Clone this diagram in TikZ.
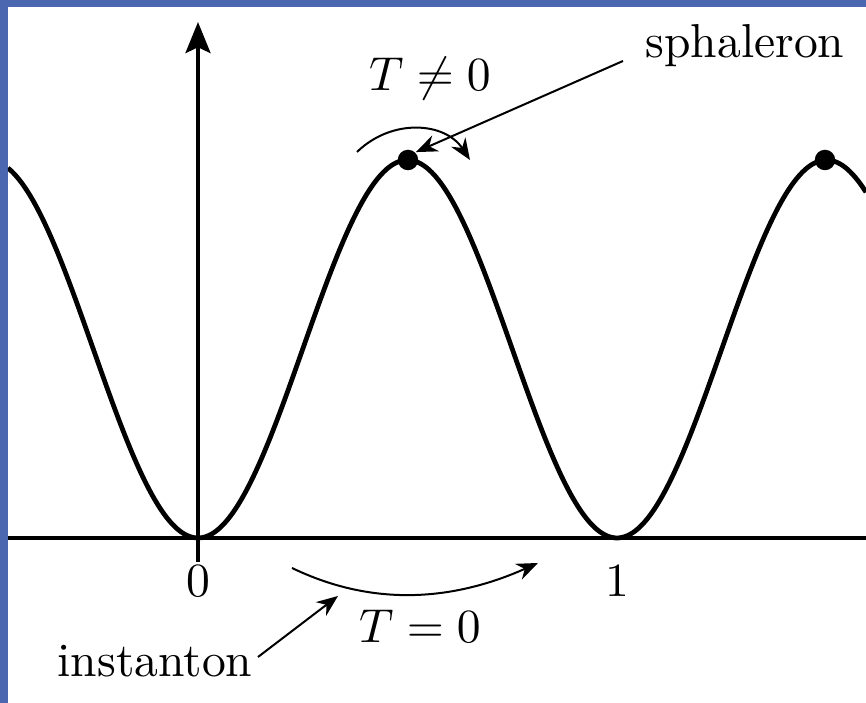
\documentclass[tikz,border=0pt]{standalone}
\usetikzlibrary{arrows.meta}
\definecolor{frameblue}{HTML}{4A67B0}
\begin{document}
\begin{tikzpicture}[x=0.21pt,y=-0.21pt,
  thick line/.style={line width=1pt},
  thin arrow/.style={line width=0.42pt,-{Stealth[length=4.5pt,width=3.6pt]}},
  lbl/.style={inner sep=0pt,anchor=base}]
\useasboundingbox (0,0) rectangle (866,703);
\fill[frameblue] (0,0) rectangle (866,703);
\fill[white] (8,7) rectangle (866,703);
\begin{scope}
\clip (8,7) rectangle (866,703);
% axes
\draw[thick line] (8,538) -- (866,538);
\draw[thick line,-{Stealth[length=6.5pt,width=5.2pt,inset=1.2pt]}] (198,562) -- (198,22);
% curve
\draw[thick line] plot[domain=8:866,samples=240,smooth] (\x,{538-189*(1-cos((\x-198)*0.859189))});
\end{scope}
% sphaleron dots
\node[circle,fill=black,inner sep=0pt,minimum size=4.3pt] (s1) at (408,160) {};
\node[circle,fill=black,inner sep=0pt,minimum size=4.3pt] (s2) at (825,160) {};
% labels
\node[lbl] (zero) at (198,597) {$0$};
\node[lbl] (one) at (617,597) {$1$};
\node[lbl] (tne) at (430,91) {$T\neq 0$};
\node[lbl] (teq) at (420,643) {$T=0$};
\node[lbl] (sph) at (745,58) {sphaleron};
\node[lbl] (ins) at (155,677) {instanton};
% arrows
\coordinate (sphstart) at (623,61);
\draw[thin arrow] (sphstart) -- (s1.north east);
\coordinate (a1) at (357,152);
\coordinate (a2) at (470,160);
\draw[thin arrow] (a1) .. controls (392,118) and (445,122) .. (a2);
\coordinate (b1) at (292,568);
\coordinate (b2) at (538,563);
\draw[thin arrow] (b1) .. controls (375,608) and (455,600) .. (b2);
\coordinate (insstart) at (258,657);
\coordinate (insend) at (338,596);
\draw[thin arrow] (insstart) -- (insend);
\end{tikzpicture}
\end{document}
